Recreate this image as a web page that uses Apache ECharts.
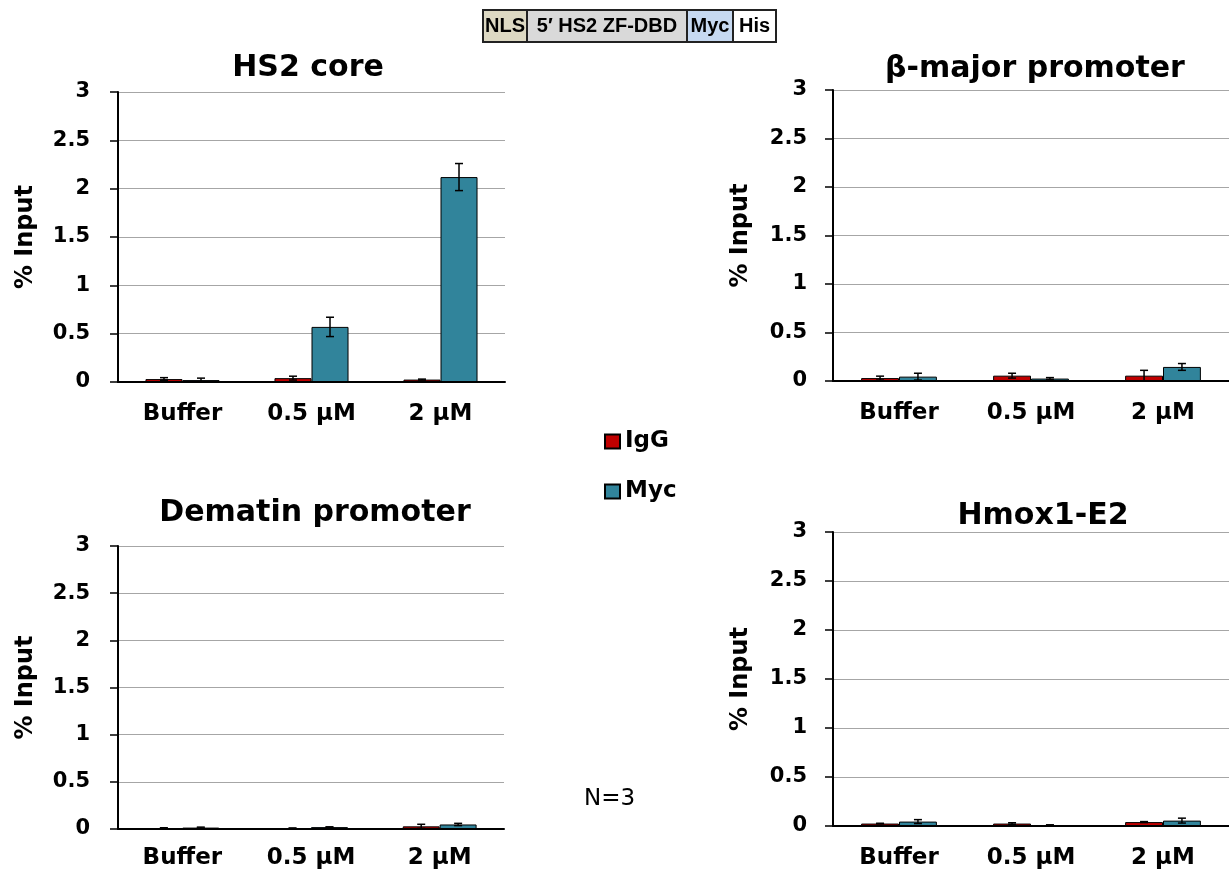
<!DOCTYPE html>
<html><head><meta charset="utf-8">
<script src="https://cdn.jsdelivr.net/npm/echarts@6/dist/echarts.min.js"></script>
<style>html,body{margin:0;padding:0;background:#fff}#c{width:1229px;height:875px}</style>
</head><body><div id="c"></div>
<script>
var categories = ['Buffer', '0.5 μM', '2 μM'];
var yTicks = [0, 0.5, 1, 1.5, 2, 2.5, 3];
var panelTitles = ['HS2 core', 'β-major promoter', 'Dematin promoter', 'Hmox1-E2'];
var seriesNames = ['IgG', 'Myc'];

var hs2IgG = [0.03, 0.04, 0.025];
var hs2IgGErr = [0.015, 0.02, 0.005];
var hs2Myc = [0.02, 0.57, 2.12];
var hs2MycErr = [0.02, 0.10, 0.14];

var betaIgG = [0.03, 0.055, 0.055];
var betaIgGErr = [0.02, 0.025, 0.055];
var betaMyc = [0.045, 0.025, 0.145];
var betaMycErr = [0.035, 0.01, 0.035];

var dematinIgG = [0.01, 0.008, 0.028];
var dematinIgGErr = [0.003, 0.003, 0.022];
var dematinMyc = [0.015, 0.02, 0.048];
var dematinMycErr = [0.005, 0.003, 0.012];

var hmoxIgG = [0.025, 0.025, 0.04];
var hmoxIgGErr = [0.003, 0.008, 0.005];
var hmoxMyc = [0.045, 0.01, 0.055];
var hmoxMycErr = [0.02, 0.002, 0.025];

var constructParts = ['NLS', '5′ HS2 ZF-DBD', 'Myc', 'His'];
var noteText = 'N=3';

var panelData = [
  [hs2IgG, hs2IgGErr, hs2Myc, hs2MycErr],
  [betaIgG, betaIgGErr, betaMyc, betaMycErr],
  [dematinIgG, dematinIgGErr, dematinMyc, dematinMycErr],
  [hmoxIgG, hmoxIgGErr, hmoxMyc, hmoxMycErr]
];

var colors = ['#c00000', '#31849b'];
var FONT = '"DejaVu Sans", Verdana, sans-serif';
var FONT2 = '"Liberation Sans", Arial, sans-serif';
var GAP = 0.426;

var grids = [
  {left: 118, top: 92, width: 387, height: 290},
  {left: 833, top: 90, width: 396, height: 291},
  {left: 118, top: 546, width: 386, height: 283},
  {left: 833, top: 532, width: 396, height: 294}
];
var titlePos = [[308, 53], [1035, 54], [315, 498], [1043, 501]];
var xLabelMargin = [21, 21, 18, 21];
var yLabelMargin = [28, 26, 28, 26];

var option = {
  animation: false,
  backgroundColor: '#fff',
  grid: grids.map(function (g) { return Object.assign({containLabel: false}, g); }),
  title: panelTitles.map(function (t, i) {
    return {text: t, left: titlePos[i][0], top: titlePos[i][1], textAlign: 'center', padding: 0,
      textStyle: {fontFamily: FONT, fontSize: 30, fontWeight: 'bold', color: '#000'}};
  }),
  xAxis: grids.map(function (g, i) {
    return {type: 'category', gridIndex: i, data: categories,
      axisLine: {show: true, lineStyle: {color: '#000', width: 2}},
      axisTick: {show: false},
      axisLabel: {margin: xLabelMargin[i], fontFamily: FONT, fontSize: 23, fontWeight: 'bold', color: '#000', interval: 0},
      splitLine: {show: false}};
  }),
  yAxis: grids.map(function (g, i) {
    return {type: 'value', gridIndex: i, min: yTicks[0], max: yTicks[yTicks.length - 1], interval: 0.5,
      name: '% Input', nameLocation: 'middle', nameGap: 80,
      nameTextStyle: {fontFamily: FONT, fontSize: 24, fontWeight: 'bold', color: '#000'},
      axisLine: {show: true, lineStyle: {color: '#000', width: 2}},
      axisTick: {show: true, inside: false, length: 8, lineStyle: {color: '#000', width: 1.5}},
      axisLabel: {margin: yLabelMargin[i], fontFamily: FONT, fontSize: 21, fontWeight: 'bold', color: '#000'},
      splitLine: {show: true, lineStyle: {color: '#a6a6a6', width: 1}}};
  }),
  legend: [
    {data: ['IgG'], left: 604, top: 430, orient: 'vertical', itemWidth: 15, itemHeight: 14, icon: 'rect', padding: 0,
      textStyle: {fontFamily: FONT, fontSize: 23, fontWeight: 'bold', color: '#000'}, selectedMode: false},
    {data: ['Myc'], left: 604, top: 480, orient: 'vertical', itemWidth: 15, itemHeight: 14, icon: 'rect', padding: 0,
      textStyle: {fontFamily: FONT, fontSize: 23, fontWeight: 'bold', color: '#000'}, selectedMode: false}
  ],
  series: [],
  graphic: []
};

function errRender(sign) {
  return function (params, api) {
    var c = api.value(0), v = api.value(1), e = api.value(2);
    var band = api.size([1, 0])[0];
    var bw = band * (1 - GAP) / 2;
    var base = api.coord([c, v]);
    var x = base[0] + sign * bw / 2;
    var top = api.coord([c, v + e])[1];
    var bot = api.coord([c, Math.max(v - e, 0)])[1];
    var cap = 4;
    var st = {stroke: '#000', lineWidth: 1.5};
    return {type: 'group', children: [
      {type: 'line', shape: {x1: x, y1: top, x2: x, y2: bot}, style: st},
      {type: 'line', shape: {x1: x - cap, y1: top, x2: x + cap, y2: top}, style: st},
      {type: 'line', shape: {x1: x - cap, y1: bot, x2: x + cap, y2: bot}, style: st}
    ]};
  };
}

panelData.forEach(function (pd, i) {
  [0, 1].forEach(function (s) {
    var vals = pd[s * 2];
    option.series.push({
      type: 'bar', name: seriesNames[s], xAxisIndex: i, yAxisIndex: i, data: vals,
      barGap: '0%', barCategoryGap: (GAP * 100) + '%',
      itemStyle: {color: colors[s], borderColor: '#000', borderWidth: 1},
      z: 2
    });
  });
  [0, 1].forEach(function (s) {
    var vals = pd[s * 2], errs = pd[s * 2 + 1];
    option.series.push({
      type: 'custom', name: seriesNames[s] + ' err', xAxisIndex: i, yAxisIndex: i,
      data: vals.map(function (v, k) { return [k, v, errs[k]]; }),
      renderItem: errRender(s === 0 ? -1 : 1), z: 5, silent: true
    });
  });
});

// construct schematic
var partX = [483, 527, 687, 733, 776];
var partFill = ['#ddd9c3', '#d9d9d9', '#c6d9f1', '#ffffff'];
var cg = [];
constructParts.forEach(function (p, k) {
  cg.push({type: 'rect', shape: {x: partX[k], y: 10, width: partX[k + 1] - partX[k], height: 32},
    style: {fill: partFill[k], stroke: '#222', lineWidth: 2}});
  cg.push({type: 'text', x: (partX[k] + partX[k + 1]) / 2, y: 26,
    style: {text: p, fill: '#000', font: 'bold 20px ' + FONT2, textAlign: 'center', textVerticalAlign: 'middle'}});
});
option.graphic.push({type: 'group', children: cg});
option.graphic.push({type: 'text', left: 584, top: 788,
  style: {text: noteText, fill: '#000', font: '23px ' + FONT}});

var chart = echarts.init(document.getElementById('c'), null, {renderer: 'canvas'});
chart.setOption(option);
</script></body></html>
